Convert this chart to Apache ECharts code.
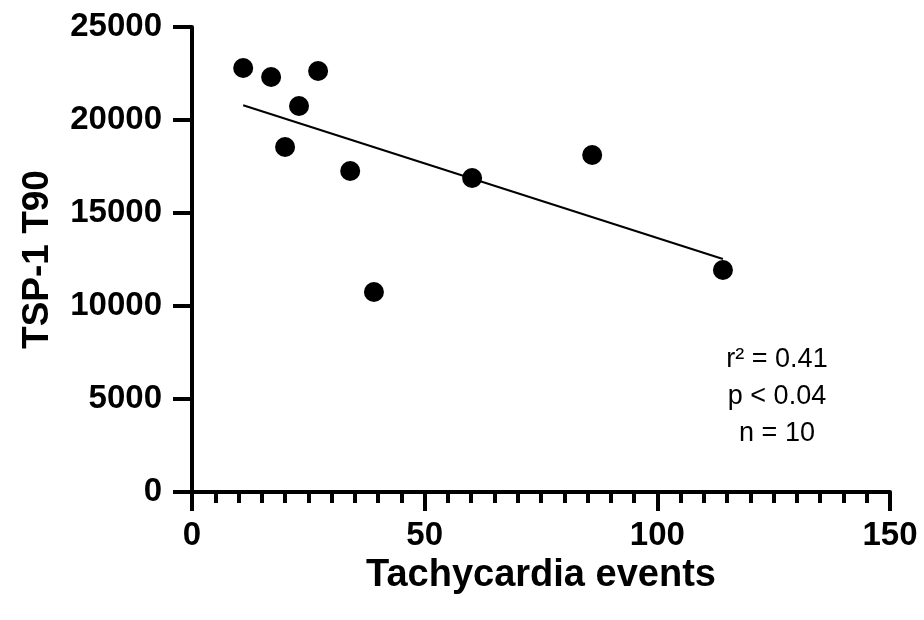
<!DOCTYPE html>
<html>
<head>
<meta charset="utf-8">
<script src="https://cdn.jsdelivr.net/npm/echarts@6/dist/echarts.min.js"></script>
<style>
html,body{margin:0;padding:0;background:#fff;}
#chart{width:924px;height:620px;}
</style>
</head>
<body>
<div id="chart"></div>
<script>
// Data
const eventsX = [11.0, 17.0, 27.1, 23.0, 20.0, 34.0, 39.1, 60.2, 86.0, 114.1];
const tspT90 = [22794, 22310, 22633, 20750, 18547, 17257, 10752, 16881, 18117, 11935];
// Regression line end points (as drawn in the reference)
const fitX = [11.0, 114.1];
const fitY = [20790, 12526];
const xTicks = [0, 50, 100, 150];
const yTicks = [0, 5000, 10000, 15000, 20000, 25000];
const statsText = ['r\u00B2 = 0.41', 'p < 0.04', 'n = 10'];
const xName = 'Tachycardia events';
const yName = 'TSP-1 T90';

const font = "'Liberation Sans', Arial, sans-serif";
const chart = echarts.init(document.getElementById('chart'));

const scatterData = eventsX.map((x, i) => [x, tspT90[i]]);
const fitData = fitX.map((x, i) => [x, fitY[i]]);

const axisLineStyle = { color: '#000', width: 4 };

chart.setOption({
  animation: false,
  backgroundColor: '#fff',
  grid: { left: 192, right: 34, top: 27, bottom: 128, containLabel: false },
  xAxis: {
    type: 'value',
    min: xTicks[0],
    max: xTicks[xTicks.length - 1],
    interval: xTicks[1] - xTicks[0],
    name: xName,
    nameLocation: 'middle',
    nameGap: 60,
    nameTextStyle: { fontFamily: font, fontWeight: 'bold', fontSize: 38, color: '#000' },
    axisLine: { show: true, lineStyle: axisLineStyle },
    axisTick: { show: true, length: 19, lineStyle: { color: '#000', width: 4 } },
    minorTick: { show: true, splitNumber: 10, length: 11, lineStyle: { color: '#000', width: 4 } },
    axisLabel: { fontFamily: font, fontWeight: 'bold', fontSize: 33, color: '#000', margin: 27,
      formatter: v => String(v) },
    splitLine: { show: false },
    minorSplitLine: { show: false }
  },
  yAxis: {
    type: 'value',
    min: yTicks[0],
    max: yTicks[yTicks.length - 1],
    interval: yTicks[1] - yTicks[0],
    name: yName,
    nameLocation: 'middle',
    nameGap: 136,
    nameTextStyle: { fontFamily: font, fontWeight: 'bold', fontSize: 37, color: '#000' },
    axisLine: { show: true, lineStyle: axisLineStyle },
    axisTick: { show: true, length: 19, lineStyle: { color: '#000', width: 4 } },
    axisLabel: { fontFamily: font, fontWeight: 'bold', fontSize: 33, color: '#000', margin: 30,
      formatter: v => String(v) },
    splitLine: { show: false }
  },
  graphic: statsText.map((t, i) => ({
    type: 'text',
    x: 777,
    y: 360 + i * 37,
    style: {
      text: t,
      fontFamily: font,
      fontSize: 27,
      fill: '#000',
      align: 'center',
      verticalAlign: 'middle'
    }
  })),
  series: [
    {
      type: 'line',
      data: fitData,
      symbol: 'none',
      lineStyle: { color: '#000', width: 2 },
      z: 2
    },
    {
      type: 'scatter',
      data: scatterData,
      symbol: 'circle',
      symbolSize: 20,
      itemStyle: { color: '#000', opacity: 1 },
      z: 3
    }
  ]
});
</script>
</body>
</html>
